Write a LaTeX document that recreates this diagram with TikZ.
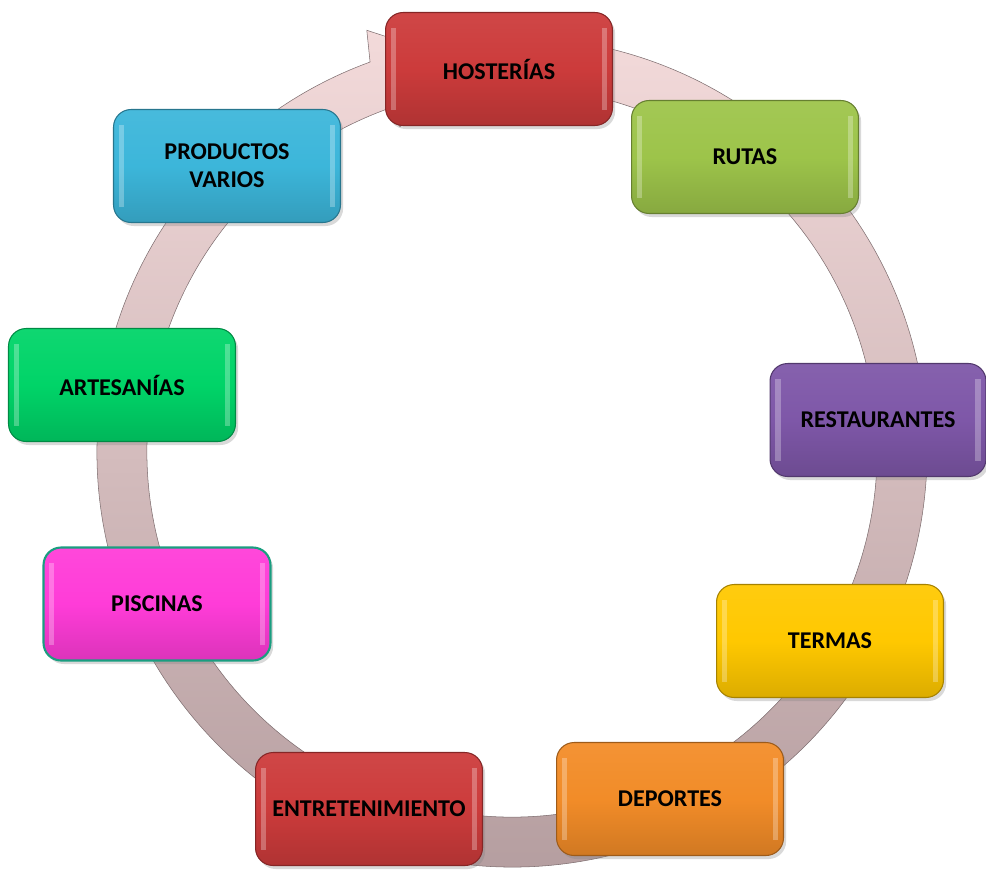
\documentclass[tikz,border=0pt]{standalone}
\usepackage{fontspec}
\setmainfont{Carlito}
\usetikzlibrary{calc,shadows}

\definecolor{ringtop}{HTML}{F3DADA}
\definecolor{ringbot}{HTML}{B39C9E}
\definecolor{boxred}{HTML}{CC3B3B}
\definecolor{boxlime}{HTML}{9DC44A}
\definecolor{boxviolet}{HTML}{7E57A8}
\definecolor{boxyellow}{HTML}{FFC800}
\definecolor{boxorange}{HTML}{F28C28}
\definecolor{boxpink}{HTML}{FF3CD8}
\definecolor{boxteal}{HTML}{1A9E80}
\definecolor{boxgreen}{HTML}{00D468}
\definecolor{boxcyan}{HTML}{3CB6DA}

\begin{document}
\begin{tikzpicture}[x=0.02cm, y=-0.02cm,
    box/.style={draw=#1!65!black, line width=0.6pt, rounded corners=10pt,
      minimum width=4.54cm, minimum height=2.26cm, align=center,
      font=\bfseries\fontsize{13.7}{16}\selectfont,
      top color=#1!94!white, bottom color=#1!86!black, middle color=#1,
      drop shadow={shadow xshift=1.5pt, shadow yshift=-2pt, opacity=0.3},
      path picture={
        \fill[white, opacity=0.28, sharp corners]
          ([xshift=3pt,yshift=-9pt]path picture bounding box.north west)
          rectangle ([xshift=6pt,yshift=9pt]path picture bounding box.south west);
        \fill[white, opacity=0.28, sharp corners]
          ([xshift=-3pt,yshift=-9pt]path picture bounding box.north east)
          rectangle ([xshift=-6pt,yshift=9pt]path picture bounding box.south east);}},
]
\useasboundingbox (0,0) rectangle (986,869);

% ring with arrow head at the top
\coordinate (c) at (512,452);
\shade[top color=ringtop, bottom color=ringbot, draw=ringbot!70!black, line width=0.3pt]
  ($(c)+(-80:415)$) arc[start angle=-80, end angle=250, radius=415]
  -- ($(c)+(251:446)$) -- ($(c)+(264:390)$) -- ($(c)+(251:344)$) -- ($(c)+(250:365)$)
  arc[start angle=250, end angle=-80, radius=365] -- cycle;

% boxes around the ring
\node[box=boxred] (host) at (499,69) {HOSTERÍAS};
\node[box=boxlime] (rutas) at (745,157) {RUTAS};
\node[box=boxviolet, minimum width=4.32cm] (rest) at (878,420) {RESTAURANTES};
\node[box=boxyellow] (termas) at (830,641) {TERMAS};
\node[box=boxorange] (dep) at (670,799) {DEPORTES};
\node[box=boxred] (entre) at (369,809) {ENTRETENIMIENTO};
\node[box=boxpink, draw=boxteal, line width=1.2pt] (pisc) at (157,604) {PISCINAS};
\node[box=boxgreen] (arte) at (122,385) {ARTESANÍAS};
\node[box=boxcyan] (prod) at (227,166) {PRODUCTOS\\VARIOS};
\end{tikzpicture}
\end{document}
